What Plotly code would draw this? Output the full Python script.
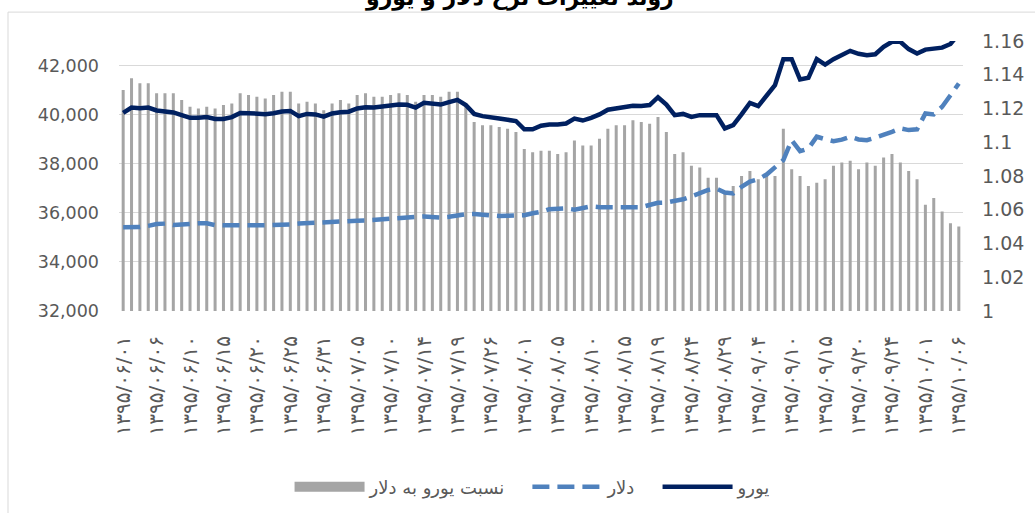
import plotly.graph_objects as go

# trading days (1395), one bar per day
days_06 = ["01", "02", "03", "04", "06", "07", "08", "09", "10", "11", "13", "14", "15", "16", "17", "18",
           "20", "21", "22", "24", "25", "28", "29", "30", "31"]
days_07 = ["01", "03", "04", "05", "06", "07", "08", "10", "11", "12", "13", "14", "15", "17", "18", "19",
           "22", "24", "25", "26", "27", "28", "29"]
days_08 = ["01", "02", "03", "04", "05", "06", "08", "09", "10", "11", "12", "13", "15", "16", "17", "18",
           "19", "20", "22", "23", "24", "25", "26", "27", "29"]
days_09 = ["01", "02", "03", "04", "06", "07", "08", "10", "11", "13", "14", "15", "16", "17", "18", "20",
           "21", "22", "23", "24", "25", "27", "28"]
days_10 = ["01", "02", "04", "05", "06"]

euro = [40070, 40290, 40260, 40290, 40170, 40130, 40090, 39980, 39870, 39870,
        39900, 39820, 39820, 39900, 40070, 40060, 40020, 40020, 40060, 40130,
        40150, 39940, 40030, 40010, 39920, 40050, 40100, 40120, 40250, 40300,
        40290, 40330, 40390, 40410, 40400, 40290, 40480, 40450, 40410, 40510,
        40600, 40390, 40030, 39940, 39870, 39840, 39790, 39740, 39400, 39400,
        39550, 39600, 39600, 39640, 39840, 39760, 39870, 40010, 40200, 40240,
        40280, 40360, 40350, 40390, 40710, 40410, 39980, 40030, 39910, 39980,
        39980, 39980, 39440, 39570, 40010, 40480, 40350, 40750, 41200, 42260,
        42260, 41430, 41500, 42260, 42040, 42260, 42420, 42600, 42480, 42420,
        42460, 42760, 42970, 42970, 42670, 42490, 42650, 42680, 42730, 42880,
        43300]

dollar = [35410, 35410, 35420, 35470, 35540, 35560, 35500, 35520, 35560, 35570,
          35570, 35500, 35490, 35500, 35490, 35490, 35490, 35490, 35490, 35500,
          35530, 35560, 35580, 35610, 35640, 35660, 35650, 35680, 35680, 35690,
          35720, 35750, 35770, 35790, 35800, 35830, 35850, 35830, 35810, 35840,
          35900, 35940, 35950, 35910, 35880, 35870, 35880, 35880, 35900, 35980,
          36040, 36150, 36180, 36180, 36130, 36180, 36260, 36230, 36220, 36220,
          36230, 36230, 36230, 36340, 36410, 36420, 36490, 36550, 36670, 36790,
          36930, 36990, 36830, 36790, 37060, 37270, 37370, 37560, 37880, 38150,
          38960, 38510, 38620, 39100, 39000, 38920, 38980, 39100, 38990, 38960,
          39060, 39170, 39300, 39440, 39370, 39400, 40050, 40010, 40320, 40790,
          41270]

ratio = [1.131, 1.138, 1.135, 1.135, 1.129, 1.129, 1.129, 1.125, 1.121, 1.120,
         1.121, 1.120, 1.122, 1.123, 1.129, 1.128, 1.127, 1.126, 1.128, 1.130,
         1.130, 1.123, 1.124, 1.123, 1.119, 1.123, 1.125, 1.123, 1.128, 1.129,
         1.127, 1.127, 1.128, 1.129, 1.128, 1.124, 1.128, 1.128, 1.127, 1.130,
         1.130, 1.123, 1.112, 1.110, 1.110, 1.109, 1.108, 1.106, 1.096, 1.094,
         1.095, 1.095, 1.093, 1.094, 1.101, 1.098, 1.098, 1.102, 1.108, 1.110,
         1.110, 1.113, 1.112, 1.111, 1.115, 1.106, 1.093, 1.094, 1.086, 1.085,
         1.079, 1.079, 1.071, 1.074, 1.080, 1.083, 1.078, 1.080, 1.080, 1.108,
         1.084, 1.080, 1.074, 1.076, 1.078, 1.086, 1.088, 1.089, 1.084, 1.088,
         1.086, 1.091, 1.093, 1.088, 1.083, 1.078, 1.063, 1.067, 1.059, 1.052,
         1.050]

left_ticks = [32000, 34000, 36000, 38000, 40000, 42000]
right_ticks = [1, 1.02, 1.04, 1.06, 1.08, 1.1, 1.12, 1.14, 1.16]

fa_digits = str.maketrans("0123456789", "۰۱۲۳۴۵۶۷۸۹")
dates = []
for month, days in [("06", days_06), ("07", days_07), ("08", days_08), ("09", days_09), ("10", days_10)]:
    for d in days:
        dates.append(("1395/" + month + "/" + d).translate(fa_digits))

GRAY_TXT = "#595959"
BAR_GRAY = "#a5a5a5"
PAD = "\u00a0" * 3  # extra room between legend entries

fig = go.Figure()
fig.add_trace(go.Bar(x=dates, y=ratio, name="نسبت یورو به دلار", marker_color=BAR_GRAY,
                     marker_line_width=0, yaxis="y", showlegend=False))
# legend entry for the bars, drawn as a wide gray block like excel
fig.add_trace(go.Scatter(x=[None], y=[None], name="نسبت یورو به دلار" + PAD, mode="lines", yaxis="y",
                         line=dict(color=BAR_GRAY, width=14)))
fig.add_trace(go.Scatter(x=dates, y=dollar, name="دلار" + PAD, mode="lines", yaxis="y2",
                         line=dict(color="#4f81bd", width=4.5, dash="17px,8px")))
fig.add_trace(go.Scatter(x=dates, y=euro, name="یورو", mode="lines", yaxis="y2",
                         line=dict(color="#002060", width=4.5)))

# chart area border (excel style)
fig.add_shape(type="rect", xref="paper", yref="paper", x0=-0.1315, x1=1.09, y0=-0.78, y1=1.107,
              line=dict(color="#d9d9d9", width=1), layer="below")

fig.add_annotation(text="روند تغییرات نرخ دلار و یورو", xref="paper", yref="paper",
                   x=0.475, y=1.1055, xanchor="center", yanchor="bottom", showarrow=False,
                   font=dict(family="DejaVu Sans", size=22, color="#000000", weight="bold"))

fig.update_layout(
    width=1035, height=513,
    margin=dict(l=119, r=71.5, t=41, b=202, autoexpand=False),
    paper_bgcolor="white", plot_bgcolor="white",
    bargap=0.64,
    showlegend=True,
    legend=dict(orientation="h", x=0.49, xanchor="center", y=-0.652, yanchor="middle",
                font=dict(family="DejaVu Sans", size=18, color=GRAY_TXT), itemwidth=70,
                traceorder="normal"),
    xaxis=dict(type="category", tickmode="array", tickvals=dates[::4], ticktext=dates[::4],
               tickangle=-90, showgrid=False, ticks="", showline=False, ticklabelstandoff=20,
               tickfont=dict(family="DejaVu Sans", size=20, color=GRAY_TXT)),
    yaxis=dict(side="right", range=[1, 1.16], tickvals=right_ticks,
               ticktext=[str(v) for v in right_ticks], showgrid=False, zeroline=False,
               ticklabelstandoff=18,
               tickfont=dict(family="DejaVu Sans", size=19, color=GRAY_TXT)),
    yaxis2=dict(side="left", overlaying="y", range=[32000, 43000], tickvals=left_ticks,
                tickformat=",", showgrid=True, gridcolor="#d9d9d9", gridwidth=1.3, zeroline=False,
                ticklabelstandoff=19,
                tickfont=dict(family="DejaVu Sans", size=17.5, color=GRAY_TXT)),
)

# drop the default page margin so the figure fills the window exactly
fig.write_html("out.html", config={"displayModeBar": False},
               post_script="document.body.style.margin='0';")
